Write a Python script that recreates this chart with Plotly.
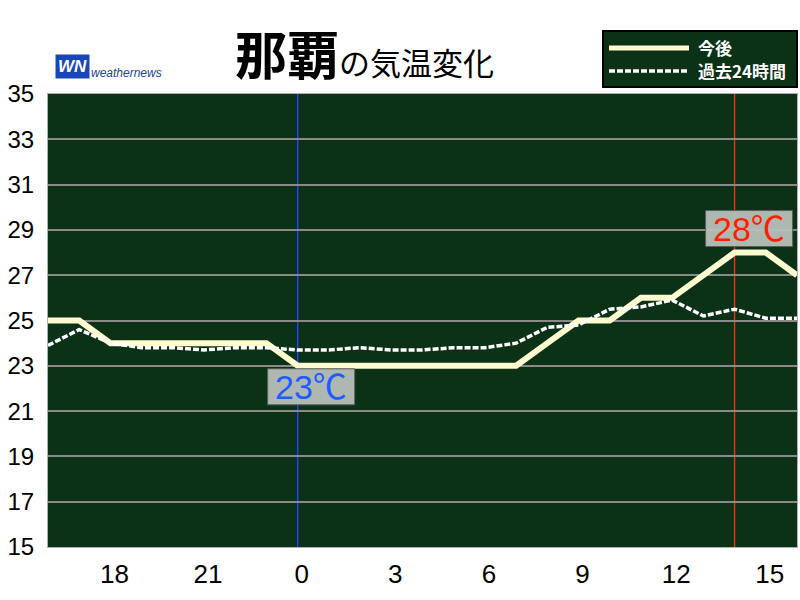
import plotly.graph_objects as go

# ---- data ----
hours = [-8, -7, -6, -5, -4, -3, -2, -1, 0, 1, 2, 3, 4, 5, 6, 7, 8, 9, 10, 11, 12, 13, 14, 15, 16]
forecast = [25, 25, 24, 24, 24, 24, 24, 24, 23, 23, 23, 23, 23, 23, 23, 23, 24, 25, 25, 26, 26, 27, 28, 28, 27]
past24 = [23.9, 24.6, 24.0, 23.8, 23.8, 23.7, 23.8, 23.8, 23.7, 23.7, 23.8, 23.7, 23.7, 23.8, 23.8, 24.0,
          24.7, 24.8, 25.5, 25.6, 25.9, 25.2, 25.5, 25.1, 25.1]
x_tickvals = [-6, -3, 0, 3, 6, 9, 12, 15]
x_ticktext = ["18", "21", "0", "3", "6", "9", "12", "15"]
y_tickvals = [15, 17, 19, 21, 23, 25, 27, 29, 31, 33, 35]
now_hour = 0
series_names = ["今後", "過去24時間"]
title_city = "那覇"
title_rest = "の気温変化"

min_val = min(forecast)
max_val = max(forecast)
min_hour = hours[forecast.index(min_val)]
max_hour = hours[forecast.index(max_val)]

BG = "#0b3116"
CJK = "Noto Sans CJK JP"
SANS = "Liberation Sans, Arial, Noto Sans CJK JP"
SOLID = dict(color="#fffbd0", width=6)
DASHED = dict(color="#ffffff", width=3.5, dash="6px,2px")

W, H = 800, 600
ml, mr, mt, mb = 48, 3, 94, 53
pw, ph = W - ml - mr, H - mt - mb


def px(xp):
    return (xp - ml) / pw


def py(yp):
    return (H - mb - yp) / ph


fig = go.Figure()
fig.add_trace(go.Scatter(x=hours, y=forecast, mode="lines", name=series_names[0],
                         line=SOLID, hoverinfo="skip"))
fig.add_trace(go.Scatter(x=hours, y=past24, mode="lines", name=series_names[1],
                         line=DASHED, hoverinfo="skip"))

# vertical markers
fig.add_shape(type="line", xref="x", yref="paper", x0=now_hour, x1=now_hour, y0=0, y1=1,
              line=dict(color="#2448ff", width=1.4), layer="below")
fig.add_shape(type="line", xref="x", yref="paper", x0=max_hour, x1=max_hour, y0=0, y1=1,
              line=dict(color="#ff2a10", width=1.4), layer="below")

# min / max label boxes (pixel-sized, anchored at the data point)
box_style = dict(type="rect", xref="x", yref="y", xsizemode="pixel", ysizemode="pixel",
                 fillcolor="rgba(184,192,184,0.95)", line=dict(color="#5a5f5a", width=1), layer="above")
fig.add_shape(**box_style, xanchor=min_hour, yanchor=min_val, x0=-30, x1=57, y0=-3, y1=-39)
fig.add_shape(**box_style, xanchor=max_hour, yanchor=max_val, x0=-29, x1=58, y0=6, y1=42)

fig.add_annotation(x=min_hour, y=min_val, xref="x", yref="y", text=f"{min_val}℃",
                   showarrow=False, xanchor="center", yanchor="middle", xshift=13, yshift=-21,
                   font=dict(family=SANS, size=34, color="#1e5cff"))
fig.add_annotation(x=max_hour, y=max_val, xref="x", yref="y", text=f"{max_val}℃",
                   showarrow=False, xanchor="center", yanchor="middle", xshift=14, yshift=24,
                   font=dict(family=SANS, size=34, color="#ff1e00"))

# custom legend box (drawn to match the reference layout)
fig.add_shape(type="rect", xref="paper", yref="paper", x0=px(603), x1=px(797), y0=py(87), y1=py(31),
              fillcolor=BG, line=dict(color="#000000", width=2), layer="above")
fig.add_shape(type="line", xref="paper", yref="paper", x0=px(609), x1=px(689), y0=py(48), y1=py(48),
              line=dict(color=SOLID["color"], width=5), layer="above")
fig.add_shape(type="line", xref="paper", yref="paper", x0=px(609), x1=px(689), y0=py(71), y1=py(71),
              line=dict(color=DASHED["color"], width=3.5, dash=DASHED["dash"]), layer="above")
for name, yl in zip(series_names, [48, 71]):
    fig.add_annotation(x=px(696), y=py(yl), xref="paper", yref="paper", xanchor="left", yanchor="middle",
                       text=f"<b>{name}</b>", showarrow=False,
                       font=dict(family=CJK, size=17, color="#ffffff"))

# title
fig.add_annotation(x=px(233), y=py(92), xref="paper", yref="paper", xanchor="left", yanchor="bottom",
                   text=f"<b>{title_city}</b><span style='font-size:31px'>{title_rest}</span>",
                   showarrow=False, font=dict(family=CJK, size=52, color="#000000"))

# logo
fig.add_annotation(x=px(55), y=py(67), xref="paper", yref="paper", xanchor="left", yanchor="middle",
                   text="<b><i>WN</i></b>", showarrow=False,
                   font=dict(family="Liberation Sans, Arial", size=17, color="#ffffff"),
                   bgcolor="#1a47b8", borderpad=2)
fig.add_annotation(x=px(89), y=py(73), xref="paper", yref="paper", xanchor="left", yanchor="middle",
                   text="<i>weathernews</i>", showarrow=False,
                   font=dict(family="Liberation Sans, Arial", size=12, color="#1a3fa8"))

fig.update_layout(
    width=W, height=H,
    margin=dict(l=ml, r=mr, t=mt, b=mb, autoexpand=False),
    paper_bgcolor="#ffffff",
    plot_bgcolor=BG,
    showlegend=False,
    xaxis=dict(range=[hours[0], hours[-1]], tickvals=x_tickvals, ticktext=x_ticktext,
               showgrid=False, zeroline=False, showline=True, linecolor="#b0b0b0", linewidth=1,
               mirror=True, ticks="", ticklabelstandoff=4, ticklabelshift=4, automargin=False,
               tickfont=dict(family="Liberation Sans Narrow, Liberation Sans", size=26, color="#000000")),
    yaxis=dict(range=[15, 35], tickvals=y_tickvals, showgrid=True, gridcolor="#8a8a8a", gridwidth=2,
               zeroline=False, showline=True, linecolor="#b0b0b0", linewidth=1, mirror=True,
               ticks="", ticklabelstandoff=8, automargin=False,
               tickfont=dict(family="Liberation Sans, Arial", size=24, color="#000000")),
)

fig.write_html("out.html", config={"displayModeBar": False},
               post_script="document.body.style.margin='0';document.body.style.overflow='hidden';")
